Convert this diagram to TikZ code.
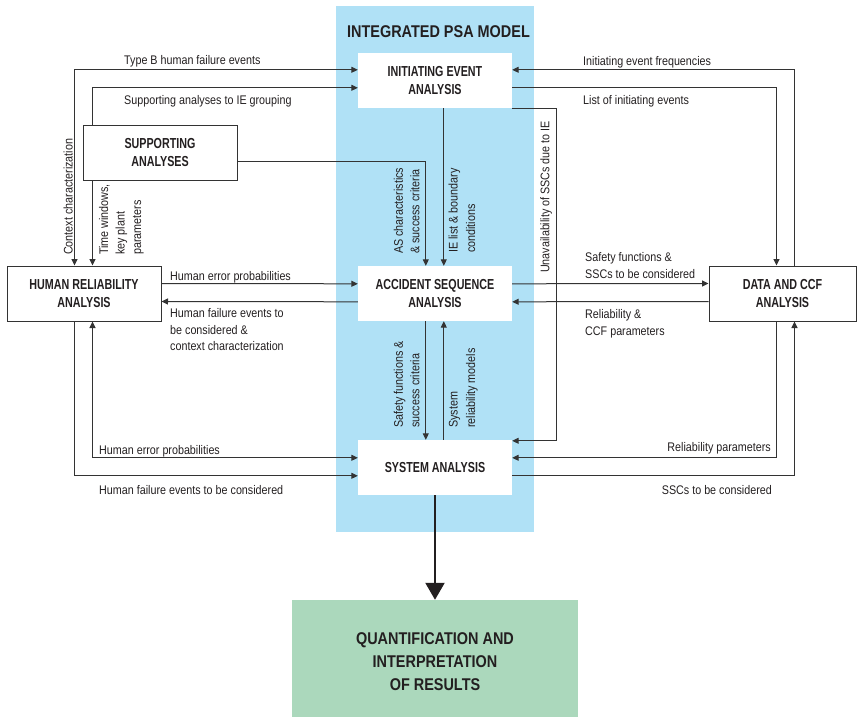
\documentclass[tikz,border=0pt]{standalone}
\usepackage{fontspec}
\setmainfont{Liberation Sans}
\newfontfamily\labf[FakeStretch=0.86]{Liberation Sans}
\newfontfamily\boxf[FakeStretch=0.74]{Liberation Sans}
\newfontfamily\qf[FakeStretch=0.85]{Liberation Sans}
\usetikzlibrary{arrows.meta,calc}
\definecolor{panelblue}{HTML}{B0E1F6}
\definecolor{qgreen}{HTML}{ABD8BC}
\definecolor{ink}{HTML}{231F20}
\definecolor{linec}{HTML}{333333}
\begin{document}
\begin{tikzpicture}[x=1pt,y=-1pt,
  lbl/.style={font=\labf\fontsize{12.5}{16}\selectfont, text=ink, inner sep=0pt},
  rlbl/.style={lbl, rotate=90, anchor=base west},
  wbox/.style={fill=white, minimum width=154pt, minimum height=55pt, inner sep=0pt, align=center, font=\boxf\bfseries\fontsize{14.5}{18}\selectfont, text=ink},
  bbox/.style={wbox, draw=linec, line width=1pt},
  arr/.style={draw=linec, line width=1pt, -{Triangle[length=6.5pt,width=6pt]}},
  arrb/.style={draw=linec, line width=1pt, {Triangle[length=6.5pt,width=6pt]}-{Triangle[length=6.5pt,width=6pt]}},
]
\useasboundingbox (0,0) rectangle (857,717);

% panel
\node[fill=panelblue, minimum width=198pt, minimum height=526pt, inner sep=0pt] (panel) at (435,269) {};
\node[font=\qf\bfseries\fontsize{17}{20}\selectfont, text=ink, anchor=base, inner sep=0pt] (title) at (438.5,37.3) {INTEGRATED PSA MODEL};

% boxes
\node[wbox] (IE) at (435,80.5) {INITIATING EVENT\\ANALYSIS};
\node[wbox] (AS) at (435,293.5) {ACCIDENT SEQUENCE\\ANALYSIS};
\node[wbox] (SA) at (435,467.5) {SYSTEM ANALYSIS};
\node[bbox] (SUP) at (160,152.5) {SUPPORTING\\ANALYSES};
\node[bbox] (HRA) at (84,293.5) {HUMAN RELIABILITY\\ANALYSIS};
\node[bbox, minimum width=147pt] (DCF) at (782.5,293.5) {DATA AND CCF\\ANALYSIS};
\node[fill=qgreen, minimum width=286pt, minimum height=124pt, inner sep=0pt, align=center, font=\qf\bfseries\fontsize{17}{23}\selectfont, text=ink] (Q) at (435,662) {QUANTIFICATION AND\\INTERPRETATION\\OF RESULTS};

% connectors
\draw[arrb] ($(HRA.north west)+(68,0)$) |- ($(IE.north west)+(0,17)$);
\draw[arr] ($(SUP.north west)+(10,0)$) |- ($(IE.north west)+(0,35)$);
\draw[arr] ($(SUP.south west)+(10,0)$) -- ($(HRA.north west)+(86,0)$);
\draw[arr] ($(SUP.north east)+(0,37)$) -| ($(AS.north west)+(68,0)$);
\draw[arr] ($(IE.south west)+(86,0)$) -- ($(AS.north west)+(86,0)$);
\draw[arr] ($(DCF.north west)+(86,0)$) |- ($(IE.north east)+(0,17)$);
\draw[arr] ($(IE.north east)+(0,35)$) -| ($(DCF.north west)+(68,0)$);
\draw[arr] (IE.south east) -- ++(44,0) |- ($(SA.north east)+(0,1)$);
\draw[arr] ($(HRA.north east)+(0,18)$) -- ($(AS.north west)+(0,18)$);
\draw[arr] ($(AS.north west)+(0,36)$) -- ($(HRA.north east)+(0,36)$);
\draw[arr] ($(AS.north east)+(0,18)$) -- ($(DCF.north west)+(0,18)$);
\draw[arr] ($(DCF.north west)+(0,36)$) -- ($(AS.north east)+(0,36)$);
\draw[arr] ($(AS.south west)+(68,0)$) -- ($(SA.north west)+(68,0)$);
\draw[arr] ($(SA.north west)+(86,0)$) -- ($(AS.south west)+(86,0)$);
\draw[arrb] ($(HRA.south west)+(86,0)$) |- ($(SA.north west)+(0,18)$);
\draw[arr] ($(HRA.south west)+(68,0)$) |- ($(SA.north west)+(0,36)$);
\draw[arr] ($(DCF.south west)+(68,0)$) |- ($(SA.north east)+(0,18)$);
\draw[arr] ($(SA.north east)+(0,36)$) -| ($(DCF.south west)+(86,0)$);
\draw[draw=ink, line width=2.2pt, -{Triangle[length=17pt,width=19pt]}] (SA.south) -- (Q.north);

% horizontal labels
\node[lbl, anchor=base west] (l1) at (124,65) {Type B human failure events};
\node[lbl, anchor=base west] (l2) at (124,104) {Supporting analyses to IE grouping};
\node[lbl, anchor=base west] (l3) at (583,66) {Initiating event frequencies};
\node[lbl, anchor=base west] (l4) at (583,104) {List of initiating events};
\node[lbl, anchor=base west] (l5) at (170,280) {Human error probabilities};
\node[lbl, anchor=base west] (l6a) at (170,317) {Human failure events to};
\node[lbl, anchor=base west] (l6b) at (170,334) {be considered \&};
\node[lbl, anchor=base west] (l6c) at (170,350) {context characterization};
\node[lbl, anchor=base west] (l7a) at (585,261.7) {Safety functions \&};
\node[lbl, anchor=base west] (l7b) at (585,278.3) {SSCs to be considered};
\node[lbl, anchor=base west] (l8a) at (585,318.3) {Reliability \&};
\node[lbl, anchor=base west] (l8b) at (585,335) {CCF parameters};
\node[lbl, anchor=base west] (l9) at (99,454) {Human error probabilities};
\node[lbl, anchor=base west] (l10) at (99,494) {Human failure events to be considered};
\node[lbl, anchor=base east] (l11) at (771,451.7) {Reliability parameters};
\node[lbl, anchor=base east] (l12) at (772,494) {SSCs to be considered};

% rotated labels
\node[rlbl] (r1) at (72.5,255) {Context characterization};
\node[rlbl] (r2a) at (108,255) {Time windows,};
\node[rlbl] (r2b) at (124.5,255) {key plant};
\node[rlbl] (r2c) at (141,255) {parameters};
\node[rlbl] (r3a) at (402.8,254) {AS characteristics};
\node[rlbl] (r3b) at (419.3,254) {\& success criteria};
\node[rlbl] (r4a) at (457.6,253) {IE list \& boundary};
\node[rlbl] (r4b) at (475,253) {conditions};
\node[rlbl] (r5) at (549.3,273) {Unavailability of SSCs due to IE};
\node[rlbl] (r6a) at (402.8,428) {Safety functions \&};
\node[rlbl] (r6b) at (419.3,428) {success criteria};
\node[rlbl] (r7a) at (457.6,428) {System};
\node[rlbl] (r7b) at (475,428) {reliability models};
\end{tikzpicture}
\end{document}
